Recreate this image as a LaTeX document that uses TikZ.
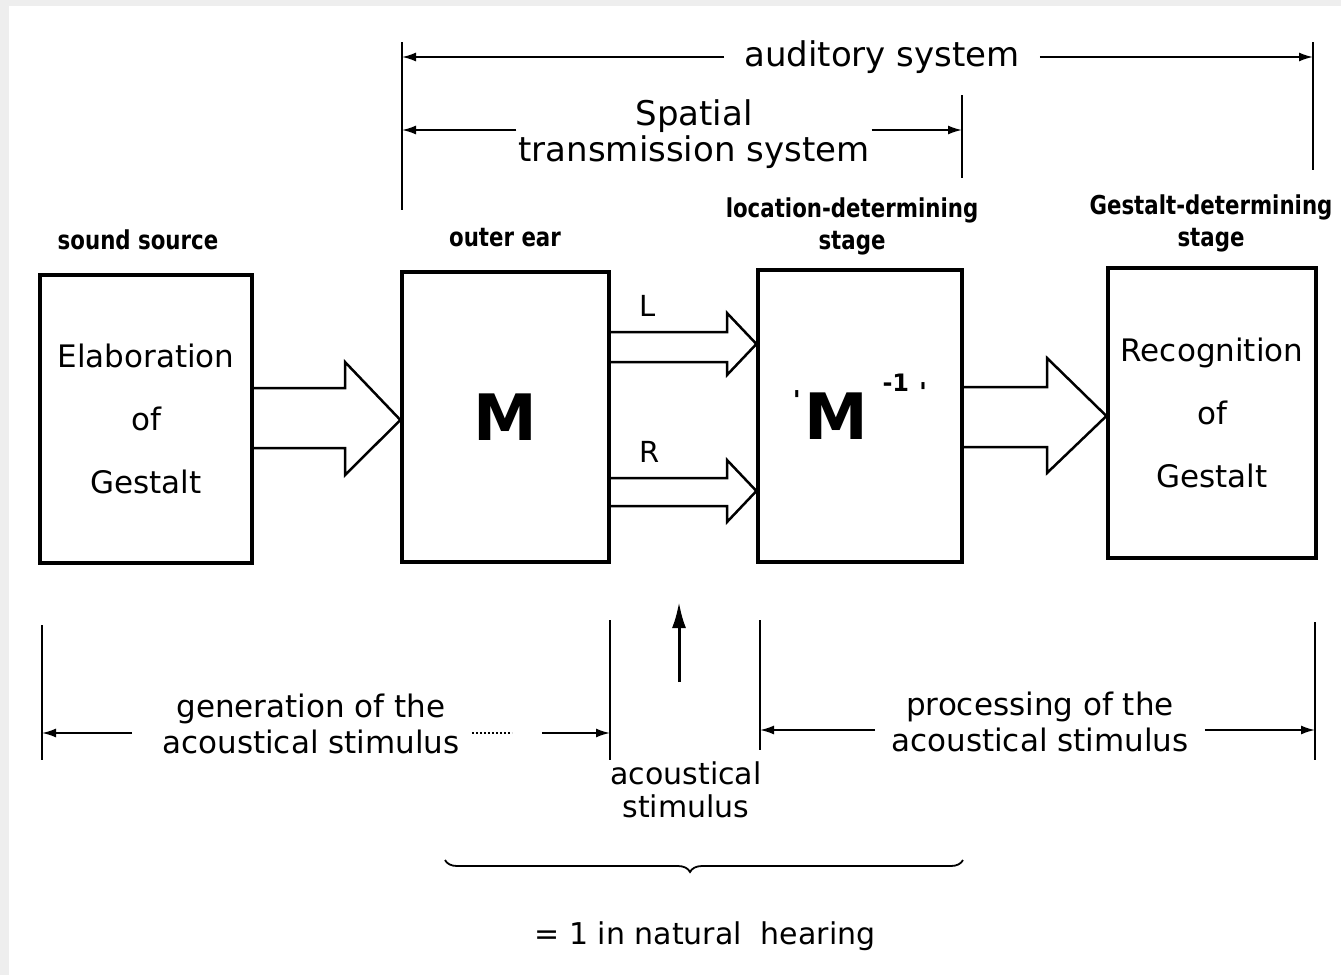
\documentclass[tikz,border=0pt]{standalone}
\usepackage{fontspec}
\setmainfont{DejaVu Sans}
\usetikzlibrary{arrows.meta,decorations.pathreplacing,calc}
\newcommand\cbold[1]{\scalebox{0.82}[1]{\bfseries #1}}
\tikzset{
  blockbox/.style={draw, line width=3.2pt, inner sep=0pt},
  boxtext/.style={align=center, font=\fontsize{31}{63}\selectfont},
  blockarrow/.style={draw, line width=2.5pt, line join=miter},
  dimline/.style={line width=1.8pt, -{Latex[length=14pt,width=9pt]}},
  tickline/.style={line width=1.5pt},
  toptext/.style={align=center, font=\fontsize{34}{36}\selectfont, inner sep=20pt},
  dimtext/.style={align=center, font=\fontsize{31}{36}\selectfont, inner sep=12pt},
  stagelabel/.style={align=center, font=\fontsize{26}{32}\selectfont},
  lrtext/.style={font=\fontsize{29}{30}\selectfont},
  uparrow/.style={line width=3pt, -{Latex[length=26pt,width=14pt]}},
  bracestyle/.style={decorate, decoration={brace, mirror, amplitude=12pt, aspect=0.473}, line width=1.8pt}
}
\begin{document}
\begin{tikzpicture}[x=1pt,y=-1pt]
\useasboundingbox (0,0) rectangle (1341,975);
\fill[gray!13] (0,0) rectangle (1341,975);
\fill[white] (9,6) rectangle (1341,975);

% boxes
\node[blockbox, boxtext, minimum width=212pt, minimum height=288pt] (src) at (146,419) {Elaboration\\of\\Gestalt};
\node[blockbox, minimum width=207pt, minimum height=290pt] (ear) at (505.5,417) {\fontsize{64}{64}\selectfont\bfseries M};
\node[blockbox, minimum width=204pt, minimum height=292pt] (loc) at (860,416)
  {\smash{\fontsize{26}{26}\selectfont\raisebox{30pt}{\bfseries\textquotesingle}}\hspace{4pt}{\fontsize{64}{64}\selectfont\bfseries M}\hspace{14pt}\smash{\fontsize{24}{24}\selectfont\raisebox{48pt}{\bfseries -1\hspace{10pt}\fontsize{26}{26}\selectfont\raisebox{-10pt}{\textquotesingle}}}};
\node[blockbox, boxtext, minimum width=208pt, minimum height=290pt] (gest) at (1212,413) {Recognition\\of\\Gestalt};

% labels above boxes
\node[stagelabel] (srcl) at (138,240) {\cbold{sound source}};
\node[stagelabel] (earl) at (505,238) {\cbold{outer ear}};
\node[stagelabel] (locl) at (852,226) {\cbold{location-determining}\\\cbold{stage}};
\node[stagelabel] (gestl) at (1211,223) {\cbold{Gestalt-determining}\\\cbold{stage}};

% block arrows
\draw[blockarrow] (src.east |- 0,388) -- (345,388) -- (345,362) -- (ear.west |- 0,420) -- (345,475) -- (345,448) -- (src.east |- 0,448);
\draw[blockarrow] (ear.east |- 0,332) -- (727,332) -- (727,313) -- (loc.west |- 0,344) -- (727,375) -- (727,362) -- (ear.east |- 0,362);
\draw[blockarrow] (ear.east |- 0,478) -- (727,478) -- (727,460) -- (loc.west |- 0,491) -- (727,522) -- (727,506) -- (ear.east |- 0,506);
\draw[blockarrow] (loc.east |- 0,387) -- (1047,387) -- (1047,358) -- (gest.west |- 0,416) -- (1047,473) -- (1047,447) -- (loc.east |- 0,447);

\node[lrtext] (L) at (648,306) {L};
\node[lrtext] (R) at (650,452) {R};

% top dimensions
\coordinate (t1a) at (402,42);  \coordinate (t1b) at (402,210);
\coordinate (t2a) at (1313,42); \coordinate (t2b) at (1313,170);
\coordinate (t3a) at (962,95);  \coordinate (t3b) at (962,178);
\draw[tickline] (t1a) -- (t1b);
\draw[tickline] (t2a) -- (t2b);
\draw[tickline] (t3a) -- (t3b);
\node[toptext] (aud) at (882,57) {auditory system};
\draw[dimline] (aud.west) -- (aud.west -| t1a);
\draw[dimline] (aud.east) -- (aud.east -| t2a);
\node[toptext, inner sep=2pt] (sp) at (694,134) {Spatial\\transmission system};
\draw[dimline] (sp.west |- 0,130) -- (t1a |- 0,130);
\draw[dimline] (sp.east |- 0,130) -- (t3a |- 0,130);

% bottom dimensions
\coordinate (b1a) at (42,625);   \coordinate (b1b) at (42,760);
\coordinate (b2a) at (610,620);  \coordinate (b2b) at (610,760);
\coordinate (b3a) at (760,620);  \coordinate (b3b) at (760,750);
\coordinate (b4a) at (1315,622); \coordinate (b4b) at (1315,760);
\draw[tickline] (b1a) -- (b1b);
\draw[tickline] (b2a) -- (b2b);
\draw[tickline] (b3a) -- (b3b);
\draw[tickline] (b4a) -- (b4b);
\node[dimtext] (gen) at (311,724) {generation of the\\acoustical stimulus};
\draw[dimline, shorten <=18pt] (gen.west |- 0,733) -- (b1a |- 0,733);
\draw[dotted, line width=2pt] (gen.east |- 0,733) -- ++(40,0);
\draw[dimline, shorten <=70pt] (gen.east |- 0,733) -- (b2a |- 0,733);
\node[dimtext, inner xsep=16pt] (proc) at (1040,722) {processing of the\\acoustical stimulus};
\draw[dimline] (proc.west |- 0,730) -- (b3a |- 0,730);
\draw[dimline] (proc.east |- 0,730) -- (b4a |- 0,730);

% acoustical stimulus
\coordinate (up0) at (679,682);
\coordinate (up1) at (679,602);
\draw[uparrow] (up0) -- (up1);
\node[align=center, font=\fontsize{30}{33}\selectfont] (stim) at (686,790) {acoustical\\stimulus};

% brace
\coordinate (br1) at (445,860);
\coordinate (br2) at (963,860);
\draw[bracestyle] (br1) -- (br2);
\node[font=\fontsize{30}{32}\selectfont] (nat) at (705,936) {= 1 in natural\ \ hearing};
\end{tikzpicture}
\end{document}
